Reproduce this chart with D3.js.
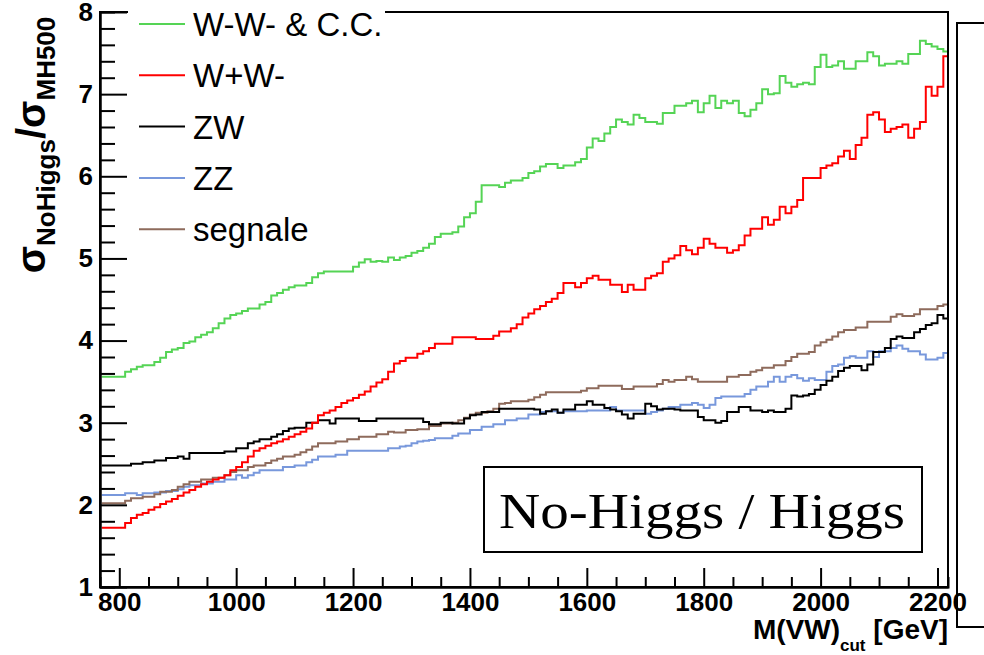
<!DOCTYPE html>
<html>
<head>
<meta charset="utf-8">
<script src="https://cdn.jsdelivr.net/npm/d3@7"></script>
<style>
    body { margin: 0; background: #fff; }
    svg { display: block; font-family: "Liberation Sans", Arial, Helvetica, sans-serif; }
</style>
</head>
<body>
<svg id="chart" width="984" height="655"></svg>
<script>
// bins of 10 GeV, left edges
var binStart = d3.range(770, 2220, 10);

var wmWm = [3.56,3.56,3.56,3.56,3.62,3.65,3.68,3.70,3.70,3.74,
    3.79,3.86,3.89,3.91,3.97,3.99,4.04,4.07,4.10,4.15,
    4.21,4.27,4.31,4.33,4.36,4.39,4.39,4.44,4.47,4.55,
    4.58,4.62,4.65,4.67,4.67,4.70,4.77,4.82,4.84,4.84,
    4.84,4.84,4.84,4.90,4.95,4.99,4.96,4.97,4.96,5.01,
    4.98,5.01,5.03,5.07,5.09,5.13,5.18,5.26,5.30,5.30,
    5.32,5.39,5.50,5.55,5.69,5.89,5.89,5.89,5.87,5.92,
    5.95,5.95,5.98,6.04,6.06,6.12,6.15,6.15,6.10,6.13,
    6.13,6.17,6.21,6.35,6.46,6.43,6.52,6.60,6.69,6.66,
    6.63,6.75,6.71,6.66,6.66,6.64,6.77,6.77,6.86,6.86,
    6.89,6.92,6.78,6.89,6.98,6.83,6.92,6.89,6.92,6.77,
    6.73,6.81,6.89,7.06,7.00,7.01,7.22,7.14,7.09,7.12,
    7.14,7.12,7.33,7.48,7.33,7.35,7.40,7.31,7.31,7.40,
    7.40,7.51,7.46,7.35,7.37,7.37,7.40,7.37,7.49,7.49,
    7.65,7.61,7.58,7.55,7.52];

var wpWm = [1.72,1.72,1.72,1.72,1.78,1.84,1.88,1.90,1.94,1.97,
    2.01,2.04,2.07,2.11,2.15,2.18,2.22,2.25,2.28,2.31,
    2.33,2.36,2.42,2.46,2.52,2.59,2.66,2.69,2.72,2.75,
    2.77,2.80,2.83,2.86,2.89,2.93,3.00,3.09,3.12,3.15,
    3.19,3.24,3.27,3.30,3.34,3.38,3.44,3.49,3.53,3.62,
    3.72,3.75,3.79,3.79,3.84,3.87,3.91,3.96,3.96,3.96,
    4.04,4.04,4.04,4.04,4.02,4.02,4.02,4.06,4.11,4.11,
    4.15,4.20,4.28,4.33,4.38,4.42,4.47,4.51,4.58,4.70,
    4.70,4.65,4.70,4.76,4.79,4.74,4.74,4.68,4.68,4.59,
    4.68,4.62,4.62,4.76,4.79,4.82,4.96,5.00,5.04,5.15,
    5.10,5.05,5.13,5.24,5.18,5.13,5.13,5.07,5.10,5.16,
    5.28,5.36,5.36,5.50,5.41,5.47,5.63,5.55,5.63,5.71,
    5.98,5.98,5.98,6.10,6.13,6.16,6.24,6.31,6.21,6.38,
    6.47,6.75,6.78,6.69,6.54,6.58,6.60,6.63,6.47,6.58,
    6.66,7.09,6.98,7.09,7.46];

var zw = [2.48,2.48,2.48,2.48,2.48,2.50,2.50,2.52,2.52,2.54,
    2.54,2.57,2.57,2.59,2.56,2.63,2.63,2.63,2.63,2.63,
    2.63,2.65,2.65,2.69,2.69,2.75,2.77,2.80,2.80,2.83,
    2.86,2.90,2.93,2.94,2.94,3.00,3.00,3.03,3.03,2.99,
    3.05,3.05,3.05,3.05,3.02,3.02,3.02,3.05,3.05,3.05,
    3.05,3.05,3.05,3.05,3.05,3.01,2.98,2.98,3.00,3.00,
    2.99,2.99,3.05,3.09,3.10,3.13,3.13,3.13,3.17,3.17,
    3.17,3.17,3.17,3.17,3.16,3.11,3.14,3.16,3.12,3.16,
    3.16,3.22,3.22,3.26,3.22,3.22,3.18,3.16,3.14,3.10,
    3.05,3.11,3.11,3.23,3.20,3.16,3.17,3.17,3.16,3.15,
    3.15,3.15,3.07,3.03,3.03,3.00,3.02,3.13,3.13,3.19,
    3.19,3.15,3.15,3.13,3.15,3.13,3.13,3.17,3.33,3.32,
    3.33,3.35,3.40,3.46,3.51,3.56,3.63,3.67,3.69,3.69,
    3.64,3.71,3.86,3.86,3.91,4.02,4.05,4.03,4.03,4.10,
    4.14,4.19,4.21,4.31,4.27];

var zz = [2.12,2.12,2.12,2.12,2.14,2.14,2.12,2.14,2.14,2.15,
    2.15,2.17,2.17,2.19,2.22,2.24,2.24,2.26,2.26,2.28,
    2.28,2.31,2.31,2.36,2.33,2.36,2.39,2.42,2.42,2.42,
    2.42,2.46,2.46,2.48,2.48,2.52,2.55,2.59,2.59,2.59,
    2.61,2.61,2.66,2.66,2.66,2.66,2.66,2.66,2.66,2.69,
    2.69,2.71,2.72,2.75,2.77,2.78,2.79,2.81,2.81,2.81,
    2.84,2.87,2.87,2.91,2.91,2.95,2.95,2.98,2.98,3.03,
    3.03,3.05,3.05,3.10,3.10,3.13,3.14,3.14,3.12,3.14,
    3.14,3.14,3.14,3.15,3.15,3.15,3.15,3.19,3.15,3.15,
    3.15,3.15,3.15,3.11,3.13,3.15,3.17,3.19,3.19,3.22,
    3.22,3.24,3.22,3.18,3.22,3.30,3.32,3.32,3.32,3.32,
    3.35,3.40,3.44,3.44,3.50,3.56,3.50,3.56,3.58,3.54,
    3.51,3.54,3.52,3.52,3.62,3.69,3.71,3.79,3.81,3.79,
    3.79,3.87,3.80,3.87,3.87,3.91,3.94,3.90,3.87,3.87,
    3.83,3.77,3.77,3.79,3.85];

var segnale = [2.02,2.02,2.02,2.02,2.05,2.08,2.08,2.10,2.10,2.13,
    2.16,2.16,2.18,2.22,2.25,2.28,2.28,2.31,2.31,2.33,
    2.33,2.36,2.40,2.42,2.42,2.46,2.48,2.48,2.51,2.54,
    2.56,2.59,2.59,2.61,2.64,2.67,2.71,2.75,2.75,2.75,
    2.77,2.77,2.80,2.80,2.83,2.83,2.83,2.86,2.86,2.89,
    2.88,2.88,2.91,2.91,2.92,2.92,2.96,2.96,2.99,2.99,
    3.00,3.03,3.06,3.10,3.12,3.12,3.14,3.17,3.23,3.24,
    3.26,3.26,3.26,3.28,3.31,3.34,3.37,3.37,3.37,3.37,
    3.37,3.37,3.39,3.42,3.42,3.45,3.45,3.45,3.45,3.41,
    3.41,3.44,3.44,3.44,3.44,3.47,3.52,3.50,3.52,3.52,
    3.56,3.53,3.50,3.50,3.50,3.50,3.50,3.56,3.56,3.58,
    3.58,3.62,3.64,3.67,3.67,3.70,3.70,3.75,3.80,3.84,
    3.84,3.86,3.94,3.98,4.01,4.05,4.10,4.13,4.13,4.16,
    4.16,4.23,4.23,4.23,4.23,4.29,4.32,4.30,4.30,4.32,
    4.38,4.38,4.38,4.42,4.44];

var legendNames = ['W-W- & C.C.', 'W+W-', 'ZW', 'ZZ', 'segnale'];
var legendColors = ['#55d455', '#ff0000', '#000000', '#7898dc', '#8e6b5c'];
var xTicks = [800, 1000, 1200, 1400, 1600, 1800, 2000, 2200];
var yTicks = [1, 2, 3, 4, 5, 6, 7, 8];

var svg = d3.select('#chart');
var x = d3.scaleLinear().domain([767, 2218]).range([100, 948]);
var y = d3.scaleLinear().domain([1, 8]).range([587, 12]);

svg.append('defs').append('clipPath').attr('id', 'plot-clip')
    .append('rect')
        .attr('x', 100).attr('y', 12)
        .attr('width', 848).attr('height', 575)

// histograms, drawn in this order
var drawOrder = [
    {vals: wmWm, color: legendColors[0]},
    {vals: zz, color: legendColors[3]},
    {vals: segnale, color: legendColors[4]},
    {vals: zw, color: legendColors[2]},
    {vals: wpWm, color: legendColors[1]}
];

var step = d3.line()
    .x(d => x(Math.max(d[0], x.domain()[0])))
    .y(d => y(d[1]))
    .curve(d3.curveStepAfter);

var hists = svg.append('g').attr('clip-path', 'url(#plot-clip)');
drawOrder.forEach(s => {
    var pts = binStart.map((b, i) => [b, s.vals[i]]);
    pts.push([binStart[binStart.length - 1] + 10, s.vals[s.vals.length - 1]]);
    hists.append('path')
        .attr('d', step(pts))
        .attr('fill', 'none')
        .attr('stroke', s.color)
        .attr('stroke-width', 2)
})

// frame
svg.append('rect')
    .attr('x', 100).attr('y', 12)
    .attr('width', 848).attr('height', 575)
    .attr('fill', 'none')
    .attr('stroke', '#000')
    .attr('stroke-width', 2)

// x axis: minor then major (ticks point up into the plot)
var xMinor = d3.range(800, 2218, 50).filter(v => v % 200 !== 0);
svg.append('g')
    .attr('transform', 'translate(0,587)')
    .call(d3.axisBottom(x).tickValues(xMinor).tickSize(-10).tickFormat(''))
svg.append('g')
    .classed('x-major', true)
    .attr('transform', 'translate(0,587)')
    .call(d3.axisBottom(x).tickValues(xTicks).tickSize(-19).tickSizeOuter(0).tickPadding(5).tickFormat(d3.format('d')))

var yMinor = d3.range(1, 8.001, 0.2).filter(v => Math.abs(v - Math.round(v)) > 0.01);
svg.append('g')
    .attr('transform', 'translate(100,0)')
    .call(d3.axisLeft(y).tickValues(yMinor).tickSize(-15).tickFormat(''))
svg.append('g')
    .classed('y-major', true)
    .attr('transform', 'translate(100,0)')
    .call(d3.axisLeft(y).tickValues(yTicks).tickSize(-27).tickSizeOuter(0).tickPadding(7).tickFormat(d3.format('d')))

svg.selectAll('.tick line').attr('stroke-width', 2)
svg.selectAll('.domain').attr('stroke-width', 2)
svg.selectAll('.x-major text, .y-major text')
    .style('font-size', '26px')
    .style('font-weight', 'bold')
    .attr('fill', '#000')
    .style('font-family', '"Liberation Sans", Arial, sans-serif')
svg.selectAll('.x-major text').attr('dy', '0.72em')

// legend (white box covers the frame top)
svg.append('rect')
    .attr('x', 128).attr('y', 0)
    .attr('width', 257).attr('height', 250)
    .attr('fill', '#fff')

var legend = svg.append('g').selectAll('g')
    .data(legendNames)
    .enter()
    .append('g')
        .attr('transform', (d, i) => `translate(0, ${24 + i * 51.3})`)
legend.append('line')
    .attr('x1', 139).attr('x2', 185)
    .attr('stroke', (d, i) => legendColors[i])
    .attr('stroke-width', 2)
legend.append('text')
    .attr('x', 193)
    .attr('y', 12)
    .style('font-size', '33px')
    .text(d => d)

// y axis title
var yTitle = svg.append('text')
    .attr('transform', 'translate(45,145) rotate(-90)')
    .attr('text-anchor', 'middle')
    .style('font-weight', 'bold')
yTitle.append('tspan').style('font-size', '40px').text('σ')
yTitle.append('tspan').style('font-size', '26px').attr('dy', 10).text('NoHiggs')
yTitle.append('tspan').style('font-size', '40px').attr('dy', -10).text('/')
yTitle.append('tspan').style('font-size', '40px').text('σ')
yTitle.append('tspan').style('font-size', '26px').attr('dy', 10).text('MH500')

// x axis title
var xTitle = svg.append('text')
    .attr('x', 948).attr('y', 639)
    .attr('text-anchor', 'end')
    .style('font-weight', 'bold')
xTitle.append('tspan').style('font-size', '28px').text('M(VW)')
xTitle.append('tspan').style('font-size', '17px').attr('dy', 12).text('cut')
xTitle.append('tspan').style('font-size', '28px').attr('dy', -12).text('\u00a0[GeV]')

// annotation box
svg.append('rect')
    .attr('x', 484).attr('y', 467)
    .attr('width', 438).attr('height', 85)
    .attr('fill', '#fff')
    .attr('stroke', '#000')
    .attr('stroke-width', 2)
svg.append('text')
    .attr('x', 499).attr('y', 528)
    .attr('textLength', 406)
    .attr('lengthAdjust', 'spacingAndGlyphs')
    .style('font-family', '"Liberation Serif", "DejaVu Serif", serif')
    .style('font-size', '50px')
    .text('No-Higgs / Higgs')

// neighbouring panel, cut off at the right edge
svg.append('rect')
    .attr('x', 957).attr('y', 23)
    .attr('width', 60).attr('height', 604)
    .attr('fill', 'none')
    .attr('stroke', '#000')
    .attr('stroke-width', 2)
</script>
</body>
</html>
